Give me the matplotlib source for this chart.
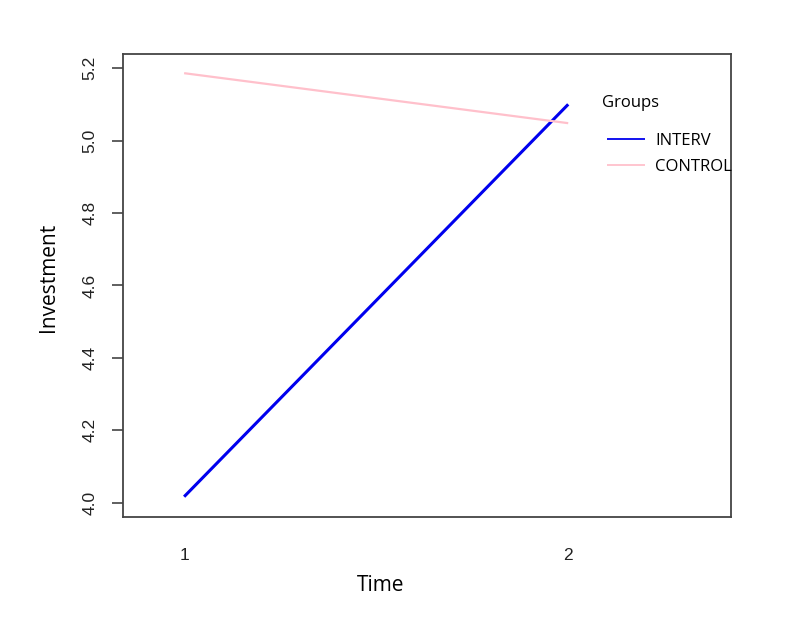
import matplotlib
matplotlib.use("Agg")
import matplotlib.pyplot as plt

# data
time = [1, 2]
interv = [4.017, 5.10]
control = [5.186, 5.048]
groups = ["INTERV", "CONTROL"]
colors = ["#0000ee", "#ffc0cb"]

fig = plt.figure(figsize=(7.99, 6.24), dpi=100)
ax = fig.add_axes([0.154, 0.1715, 0.761, 0.742])

ax.plot(time, interv, color=colors[0], lw=2.2, label=groups[0], solid_capstyle="butt")
ax.plot(time, control, color=colors[1], lw=1.6, label=groups[1], solid_capstyle="butt")

ax.set_xlim(0.841, 2.424)
ax.set_ylim(3.961, 5.239)
ax.set_xticks(time)
ax.set_xticklabels(["1", "2"], fontsize=12.5, family="Liberation Sans", color="#222222")
ax.tick_params(axis="x", length=0, pad=22)
yt = [4.0, 4.2, 4.4, 4.6, 4.8, 5.0, 5.2]
ax.set_yticks(yt)
ax.set_yticklabels(["%.1f" % v for v in yt], rotation=90, va="center",
                   fontsize=12.5, family="Liberation Sans", color="#222222")
ax.tick_params(axis="y", length=8, width=1.2, color="#444444", pad=10.5)

for s in ax.spines.values():
    s.set_color("#444444")
    s.set_linewidth(1.3)

ax.set_xlabel("Time", fontsize=15, family="Open Sans")
ax.xaxis.set_label_coords(0.424, -0.125)
ax.set_ylabel("Investment", fontsize=15, family="Open Sans")
ax.yaxis.set_label_coords(-0.105, 0.518)

ax.text(0.788, 0.894, "Groups", transform=ax.transAxes, fontsize=12,
        family="Open Sans", va="center", ha="left")
leg = ax.legend(frameon=False, loc="upper left", bbox_to_anchor=(0.796, 0.829),
                borderaxespad=0, borderpad=0, prop={"family": "Open Sans", "size": 12},
                handlelength=2.3, handletextpad=0.6, labelspacing=0.6)
for line in leg.get_lines():
    line.set_linewidth(1.3)

plt.savefig("out.png", dpi=100)
